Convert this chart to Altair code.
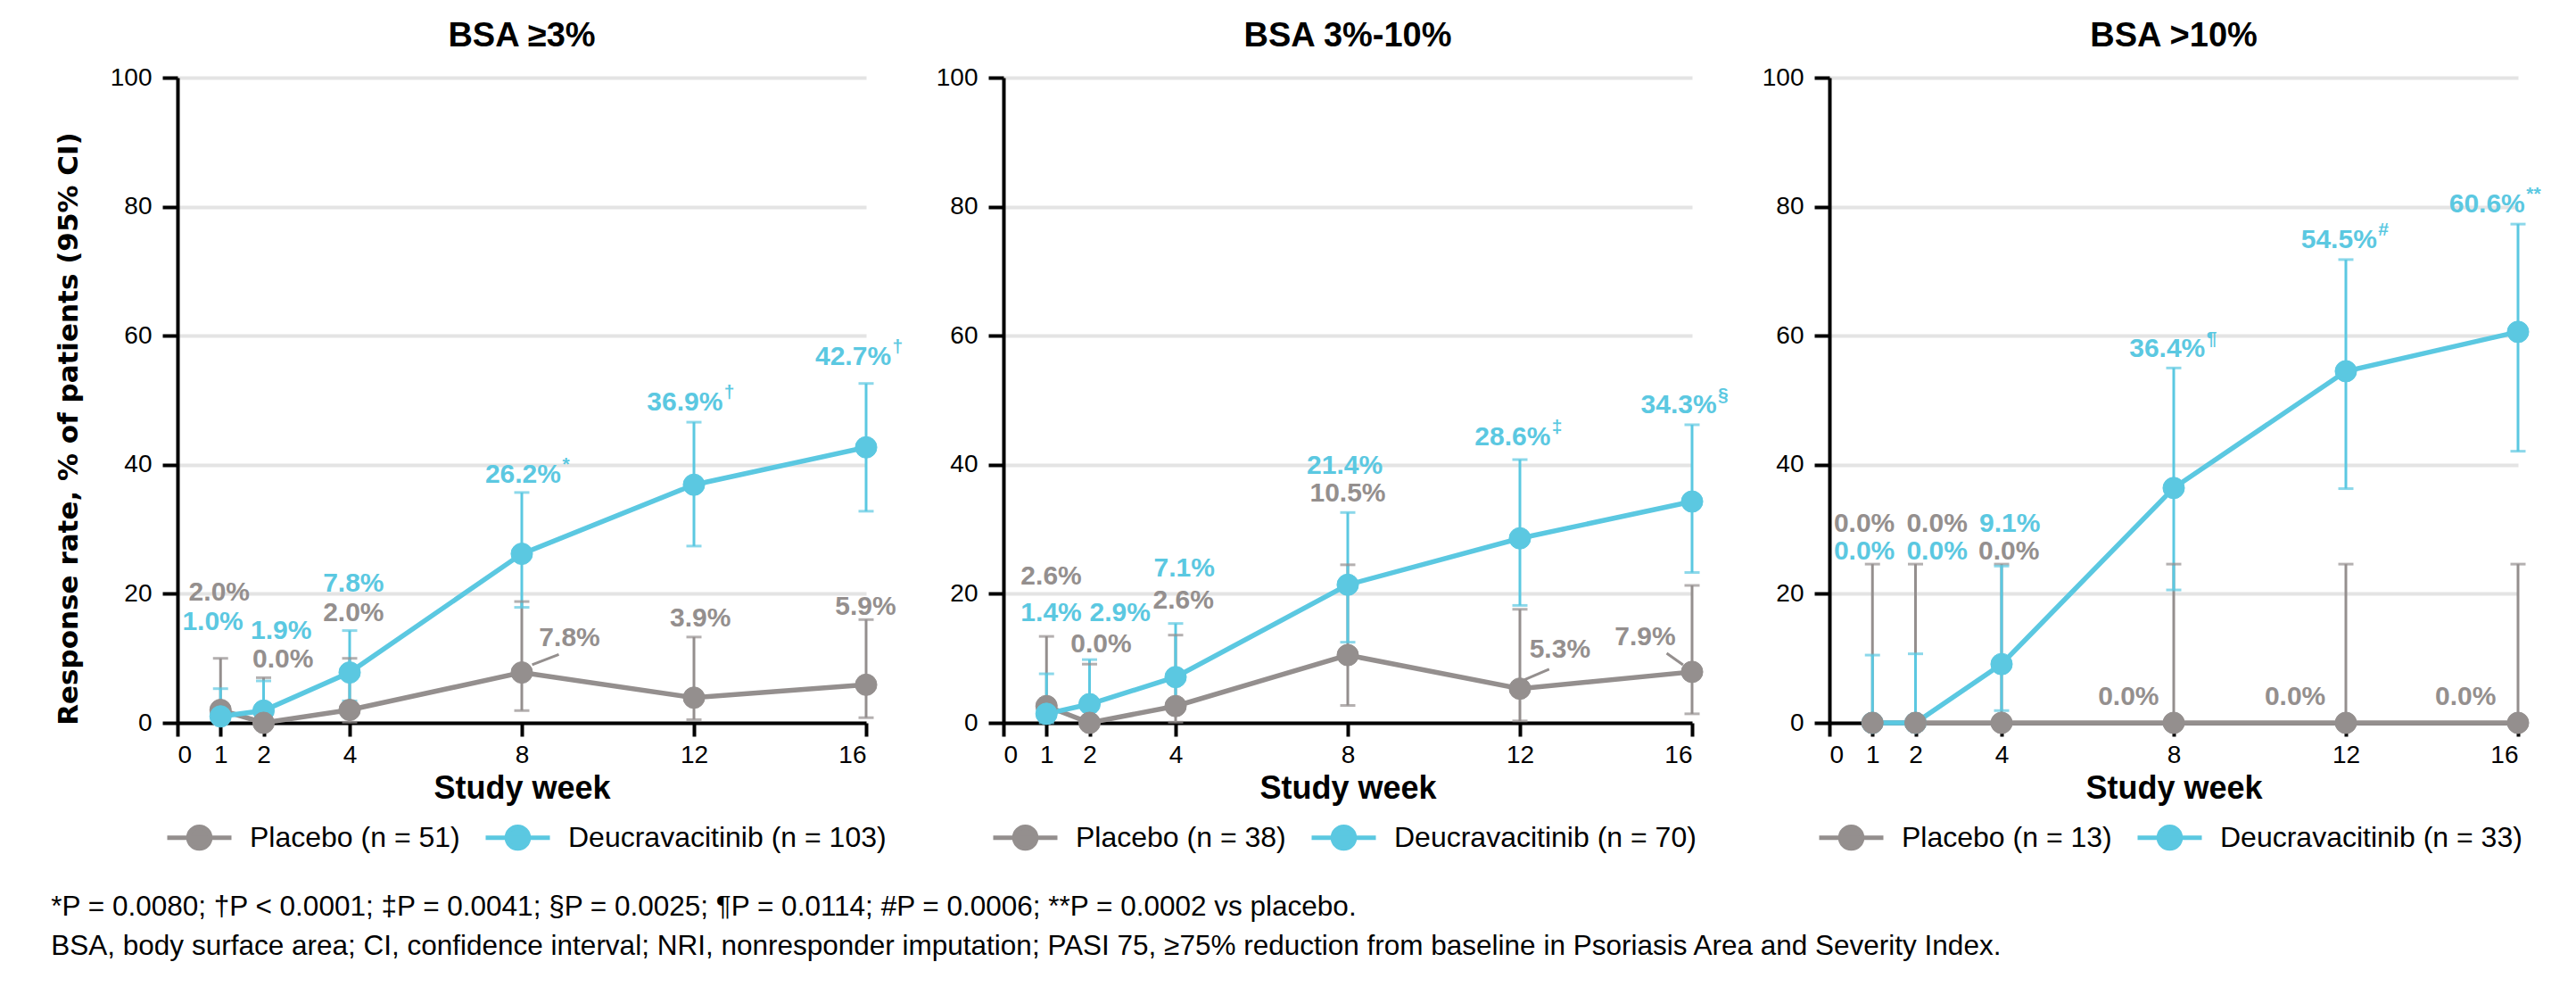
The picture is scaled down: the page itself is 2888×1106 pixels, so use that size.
import altair as alt
import pandas as pd

# ---- data -------------------------------------------------------------
weeks = [1, 2, 4, 8, 12, 16]
panel_titles = ["BSA ≥3%", "BSA 3%-10%", "BSA >10%"]
placebo_n = [51, 38, 13]
deucra_n = [103, 70, 33]

# PASI 75 response rate (%) and 95% CI bounds per subgroup
placebo_rate = [
    [2.0, 0.0, 2.0, 7.8, 3.9, 5.9],
    [2.6, 0.0, 2.6, 10.5, 5.3, 7.9],
    [0.0, 0.0, 0.0, 0.0, 0.0, 0.0],
]
placebo_lo = [
    [0.1, 0.0, 0.1, 1.9, 0.5, 0.8],
    [0.1, 0.0, 0.1, 2.7, 0.3, 1.4],
    [0.0, 0.0, 0.0, 0.0, 0.0, 0.0],
]
placebo_hi = [
    [10.0, 7.0, 10.0, 18.8, 13.3, 16.0],
    [13.4, 9.1, 13.6, 24.5, 17.6, 21.3],
    [24.6, 24.6, 24.6, 24.6, 24.6, 24.6],
]
deucra_rate = [
    [1.0, 1.9, 7.8, 26.2, 36.9, 42.7],
    [1.4, 2.9, 7.1, 21.4, 28.6, 34.3],
    [0.0, 0.0, 9.1, 36.4, 54.5, 60.6],
]
deucra_lo = [
    [0.0, 0.2, 3.4, 17.9, 27.4, 32.8],
    [0.0, 0.3, 2.4, 12.5, 18.2, 23.3],
    [0.0, 0.0, 1.9, 20.6, 36.3, 42.1],
]
deucra_hi = [
    [5.3, 6.5, 14.3, 35.7, 46.6, 52.6],
    [7.6, 9.8, 15.4, 32.6, 40.8, 46.2],
    [10.5, 10.7, 24.3, 55.0, 71.8, 77.3],
]
deucra_marks = [
    ["", "", "", "*", "†", "†"],
    ["", "", "", "", "‡", "§"],
    ["", "", "", "¶", "#", "**"],
]

footnote = [
    "*P = 0.0080; †P < 0.0001; ‡P = 0.0041; §P = 0.0025; ¶P = 0.0114; #P = 0.0006; **P = 0.0002 vs placebo.",
    "BSA, body surface area; CI, confidence interval; NRI, nonresponder imputation; "
    "PASI 75, ≥75% reduction from baseline in Psoriasis Area and Severity Index.",
]

# ---- label placement (week, % units) ----------------------------------
placebo_label_x = [
    [0.97, 2.45, 4.09, 9.11, 12.15, 15.99],
    [1.11, 2.27, 4.18, 8.0, 12.93, 14.91],
    [0.81, 2.5, 4.17, 6.95, 10.82, 14.78],
]
placebo_label_y = [
    [20.2, 9.8, 17.0, 13.1, 16.2, 18.0],
    [22.7, 12.2, 19.0, 35.5, 11.4, 13.3],
    [30.8, 30.8, 26.6, 4.0, 4.0, 4.0],
]
deucra_label_x = [
    [0.82, 2.41, 4.09, 8.03, 11.79, 15.7],
    [1.11, 2.71, 4.2, 7.93, 11.83, 15.69],
    [0.81, 2.5, 4.19, 7.85, 11.84, 15.28],
]
deucra_label_y = [
    [15.6, 14.2, 21.6, 38.5, 49.6, 56.7],
    [17.0, 17.0, 23.9, 39.9, 44.2, 49.2],
    [26.6, 26.6, 30.8, 58.0, 74.8, 80.3],
]
# connector lines from a point to its displaced label: (x, y, x2, y2)
leaders = [
    [(8.24, 9.0, 8.86, 10.6)],
    [(12.11, 6.7, 12.68, 8.3), (15.41, 10.8, 15.79, 9.0)],
    [],
]

# ---- style ------------------------------------------------------------
GRAY = "#948f8e"
BLUE = "#5bc8e1"
SANS = "Liberation Sans, Arial, sans-serif"
W, H = 772, 723
# legend glyph: a short line with a dot in the middle
LEGEND_GLYPH = "M-1,0H1M-0.34,0A0.34,0.34,0,1,1,0.34,0A0.34,0.34,0,1,1,-0.34,0Z"

x_scale = alt.Scale(domain=[0, 16], nice=False, zero=False)
y_scale = alt.Scale(domain=[0, 100], nice=False)


def panel(i):
    names = [f"Placebo (n = {placebo_n[i]})", f"Deucravacitinib (n = {deucra_n[i]})"]
    series = [
        (placebo_rate[i], placebo_lo[i], placebo_hi[i], placebo_label_x[i],
         placebo_label_y[i], [""] * len(weeks), GRAY, 0.01),
        (deucra_rate[i], deucra_lo[i], deucra_hi[i], deucra_label_x[i],
         deucra_label_y[i], deucra_marks[i], BLUE, 0.0),
    ]
    recs = []
    for k, (rate, lo, hi, lx, ly, marks, hexc, tie) in enumerate(series):
        for j, w in enumerate(weeks):
            recs.append(dict(series=names[k], hexc=hexc, week=w, rate=rate[j],
                             lo=lo[j], hi=hi[j], lx=lx[j], ly=ly[j],
                             label=f"{rate[j]:.1f}%", mark=marks[j],
                             z=-rate[j] + tie))
    df = pd.DataFrame(recs)

    x_axis = alt.Axis(values=[0, 1, 2, 4, 8, 12, 16], format="d", grid=False,
                      tickSize=15, labelPadding=7, titlePadding=6,
                      titleFont=SANS, titleFontSize=36, titleFontWeight="bold")
    y_axis = alt.Axis(values=[0, 20, 40, 60, 80, 100], format="d", grid=True,
                      tickSize=17, labelPadding=12,
                      titleFont="DejaVu Sans", titleFontSize=31,
                      titleFontWeight="bold", titlePadding=30, titleY=393)
    y_title = "Response rate, % of patients (95% CI)" if i == 0 else None

    def X(field):
        return alt.X(field, type="quantitative", scale=x_scale, axis=x_axis,
                     title="Study week")

    def Y(field):
        return alt.Y(field, type="quantitative", scale=y_scale, axis=y_axis,
                     title=y_title)

    base = alt.Chart(df)
    color_scale = alt.Scale(domain=names, range=[GRAY, BLUE])
    legend = alt.Legend(
        title=None, orient="none", legendX=-14, legendY=H + 90,
        direction="horizontal", symbolType=LEGEND_GLYPH, symbolSize=5184,
        symbolStrokeWidth=5, symbolOpacity=1, labelFont=SANS,
        labelFontSize=32, labelColor="black", labelOffset=18,
        columnPadding=18, labelLimit=0,
    )

    bars = base.mark_rule(strokeWidth=3).encode(
        x=X("week"), y=Y("lo"), y2="hi:Q",
        color=alt.Color("hexc:N", scale=None),
    )
    caps = base.transform_fold(["lo", "hi"], as_=["end", "val"]).mark_tick(
        orient="horizontal", size=17, thickness=3
    ).encode(x=X("week"), y=Y("val"), color=alt.Color("hexc:N", scale=None))
    lines = base.mark_line(strokeWidth=5.5).encode(
        x=X("week"), y=Y("rate"), detail="series:N",
        color=alt.Color("hexc:N", scale=None), order="week:Q",
    )
    layers = [bars, caps, lines]

    if leaders[i]:
        ldf = pd.DataFrame(leaders[i], columns=["x1", "y1", "x2", "y2"])
        layers.append(
            alt.Chart(ldf).mark_rule(strokeWidth=3, color=GRAY).encode(
                x=X("x1"), y=Y("y1"), x2="x2:Q", y2="y2:Q"
            )
        )

    points = base.mark_point(filled=True, size=580, strokeWidth=1,
                             opacity=1, shape="circle").encode(
        x=X("week"), y=Y("rate"),
        fill=alt.Fill("series:N", scale=color_scale, legend=legend),
        stroke=alt.Stroke("series:N", scale=color_scale, legend=legend),
        order=alt.Order("z:Q"),
    )
    labels = base.mark_text(font=SANS, fontSize=30, fontWeight="bold",
                            align="center", baseline="middle").encode(
        x=X("lx"), y=Y("ly"), text="label:N",
        color=alt.Color("hexc:N", scale=None),
    )
    sups = base.transform_filter("datum.mark != ''").mark_text(
        font=SANS, fontSize=21, fontWeight="bold", align="left",
        baseline="middle", dx=44, dy=-11,
    ).encode(x=X("lx"), y=Y("ly"), text="mark:N",
             color=alt.Color("hexc:N", scale=None))
    layers += [points, labels, sups]

    return alt.layer(*layers).properties(
        width=W, height=H,
        title=alt.TitleParams(panel_titles[i], font=SANS, fontSize=38,
                              fontWeight="bold", color="black",
                              anchor="middle", baseline="alphabetic",
                              offset=-17),
    )


chart = (
    alt.hconcat(panel(0), panel(1), panel(2), spacing=154, bounds="flush")
    .resolve_scale(fill="independent", stroke="independent")
    .resolve_legend(fill="independent", stroke="independent")
    .properties(
        title=alt.TitleParams(footnote, orient="bottom", anchor="start",
                              font=SANS, fontSize=31.5, fontWeight="normal",
                              color="black", lineHeight=44, baseline="top",
                              offset=40, dx=-4),
        padding={"left": 57, "right": 8, "top": 22, "bottom": 10},
        background="white",
    )
    .configure_view(stroke=None)
    .configure_axis(
        labelFont=SANS, labelFontSize=28, labelColor="black",
        domainColor="black", domainWidth=4, tickColor="black", tickWidth=4,
        gridColor="#e4e4e4", gridWidth=4, titleColor="black",
    )
)

chart.save("out.html", embed_options={"renderer": "svg", "actions": False})
